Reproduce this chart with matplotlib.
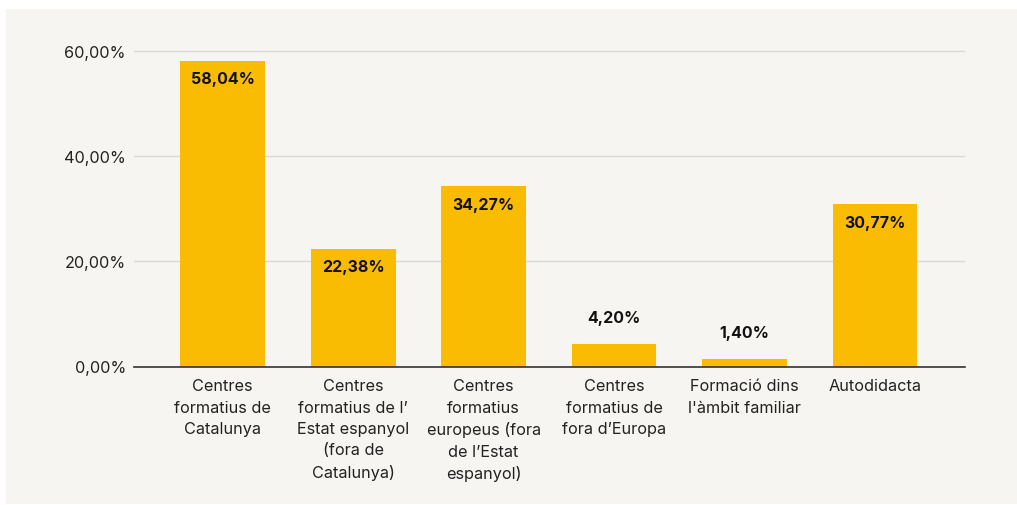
#!/usr/bin/env python3
"""Bar chart: where the training was received (percent of answers)."""
import matplotlib
matplotlib.use('Agg')
import matplotlib.pyplot as plt
from matplotlib.patches import Rectangle
from matplotlib.ticker import FuncFormatter

categories = [
    'Centres\nformatius de\nCatalunya',
    'Centres\nformatius de l\u2019\nEstat espanyol\n(fora de\nCatalunya)',
    'Centres\nformatius\neuropeus (fora\nde l\u2019Estat\nespanyol)',
    'Centres\nformatius de\nfora d\u2019Europa',
    'Formació dins\nl\'àmbit familiar',
    'Autodidacta',
]
values = [58.04, 22.38, 34.27, 4.20, 1.40, 30.77]
y_ticks = [0, 20, 40, 60]

BAR = '#F9BC03'
BG = '#F6F5F2'
TEXT = '#222222'
FS = 11.7

plt.rcParams['font.family'] = ['Inter', 'DejaVu Sans']


def pct(v, _pos=None):
    return f'{v:.2f}%'.replace('.', ',')


fig = plt.figure(figsize=(10.17, 5.06), dpi=100, facecolor='white')
fig.patches.append(Rectangle((6 / 1017, 1 / 506), 1011 / 1017, 495 / 506,
                             transform=fig.transFigure, facecolor=BG,
                             edgecolor='none', zorder=-10))

ax = fig.add_axes([134 / 1017, 138.5 / 506, 831 / 1017, 326.5 / 506])
ax.set_facecolor('none')

x = list(range(len(values)))
ax.bar(x, values, width=0.65, color=BAR, zorder=3)
ax.set_xlim(-0.68, 5.69)
ax.set_ylim(0, 62)

ax.set_yticks(y_ticks)
ax.yaxis.set_major_formatter(FuncFormatter(pct))
ax.grid(axis='y', color='#D9D9D9', linewidth=1, zorder=0)
ax.set_xticks(x)
ax.set_xticklabels(categories, linespacing=1.52)

ax.tick_params(axis='y', length=0, pad=5.8, labelsize=FS, labelcolor=TEXT)
ax.tick_params(axis='x', length=0, pad=8.5, labelsize=FS, labelcolor=TEXT)

for side in ('top', 'right', 'left'):
    ax.spines[side].set_visible(False)
ax.spines['bottom'].set_color('#333333')
ax.spines['bottom'].set_linewidth(1.2)
ax.spines['bottom'].set_zorder(4)

for xi, v in zip(x, values):
    offset = -13 if v > 10 else 19.5
    ax.annotate(pct(v), (xi, v), xytext=(0, offset), textcoords='offset points',
                ha='center', va='center', fontsize=11.5, fontweight='bold',
                color='#111111', zorder=5)

fig.savefig('out.png', dpi=100, facecolor='white')
